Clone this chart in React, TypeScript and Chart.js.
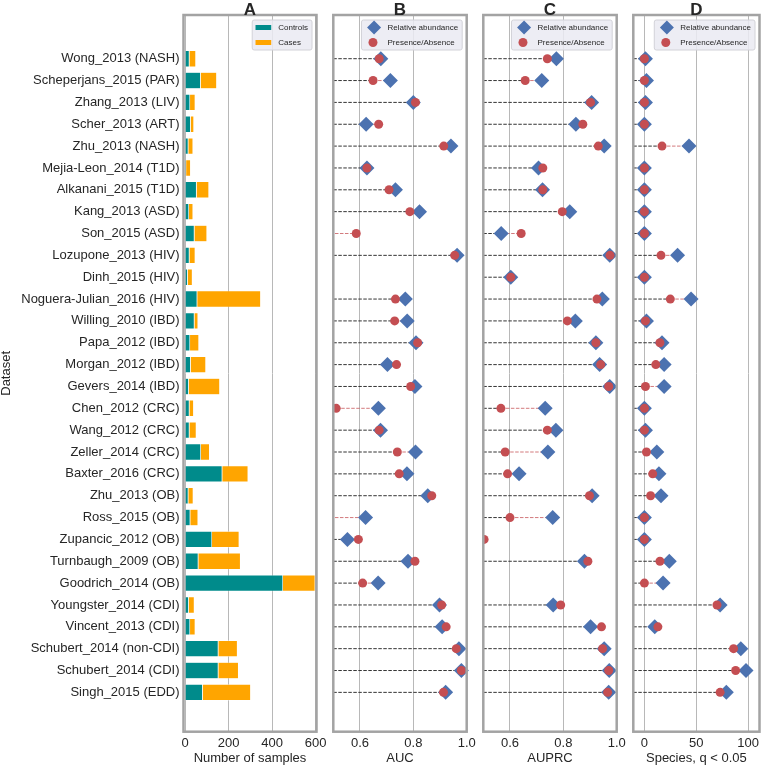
import React, { useEffect, useRef } from 'react';
import { Chart, registerables } from 'chart.js';

Chart.register(...registerables);

// ---------------- data ----------------
const datasetLabels = [
  'Wong_2013 (NASH)', 'Scheperjans_2015 (PAR)', 'Zhang_2013 (LIV)', 'Scher_2013 (ART)',
  'Zhu_2013 (NASH)', 'Mejia-Leon_2014 (T1D)', 'Alkanani_2015 (T1D)', 'Kang_2013 (ASD)',
  'Son_2015 (ASD)', 'Lozupone_2013 (HIV)', 'Dinh_2015 (HIV)', 'Noguera-Julian_2016 (HIV)',
  'Willing_2010 (IBD)', 'Papa_2012 (IBD)', 'Morgan_2012 (IBD)', 'Gevers_2014 (IBD)',
  'Chen_2012 (CRC)', 'Wang_2012 (CRC)', 'Zeller_2014 (CRC)', 'Baxter_2016 (CRC)',
  'Zhu_2013 (OB)', 'Ross_2015 (OB)', 'Zupancic_2012 (OB)', 'Turnbaugh_2009 (OB)',
  'Goodrich_2014 (OB)', 'Youngster_2014 (CDI)', 'Vincent_2013 (CDI)', 'Schubert_2014 (non-CDI)',
  'Schubert_2014 (CDI)', 'Singh_2015 (EDD)',
];

const controls = [20, 72, 23, 26, 15, 5, 53, 18, 43, 20, 12, 56, 43, 23, 26, 17, 20, 20, 73, 171, 15, 24, 124, 61, 450, 17, 23, 153, 153, 81];
const cases = [30, 74, 24, 15, 22, 21, 57, 19, 58, 27, 22, 292, 17, 41, 70, 143, 20, 32, 40, 119, 23, 36, 125, 194, 148, 26, 24, 88, 93, 221];

const aucRA = [0.678, 0.714, 0.800, 0.623, 0.941, 0.626, 0.733, 0.823, 0.45, 0.964, 0.45, 0.770, 0.777, 0.810, 0.703, 0.806, 0.669, 0.677, 0.808, 0.776, 0.854, 0.621, 0.553, 0.780, 0.668, 0.898, 0.908, 0.971, 0.980, 0.921];
const aucPA = [0.672, 0.649, 0.808, 0.670, 0.914, 0.626, 0.709, 0.787, 0.586, 0.955, 0.44, 0.733, 0.730, 0.816, 0.737, 0.790, 0.511, 0.672, 0.740, 0.747, 0.869, 0.45, 0.594, 0.806, 0.610, 0.906, 0.923, 0.961, 0.980, 0.913];

const auprcRA = [0.774, 0.719, 0.906, 0.847, 0.953, 0.707, 0.722, 0.824, 0.567, 0.974, 0.603, 0.946, 0.845, 0.922, 0.936, 0.974, 0.732, 0.772, 0.742, 0.634, 0.908, 0.760, 0.45, 0.879, 0.45, 0.762, 0.902, 0.953, 0.972, 0.970];
const auprcPA = [0.740, 0.657, 0.902, 0.873, 0.931, 0.723, 0.723, 0.796, 0.642, 0.975, 0.603, 0.926, 0.815, 0.922, 0.940, 0.970, 0.566, 0.740, 0.582, 0.591, 0.898, 0.600, 0.503, 0.892, 0.44, 0.790, 0.943, 0.947, 0.970, 0.966];

const speciesRA = [1, 2, 1, 0, 43, 0, 0, 0, 0, 32, 0, 45, 2, 17, 19, 19, 0, 1, 12, 14, 16, 0, 0, 24, 18, 73, 10, 93, 98, 79];
const speciesPA = [0, 0, 0, 0, 17, 0, 0, 0, 0, 16, 0, 25, 1, 15, 11, 1, 0, 0, 2, 8, 6, 0, 0, 15, 0, 70, 13, 86, 88, 73];

const sampleTicks = [0, 200, 400, 600];
const scoreTicks = [0.6, 0.8, 1.0];
const speciesTicks = [0, 50, 100];

// ---------------- style ----------------
const W = 767;
const H = 766;
const FONT = '"Liberation Sans", Arial, Helvetica, sans-serif';
const TEXT = '#262626';
const BLUE = '#4C72B0';
const RED = '#C44E52';
const TEAL = '#008B8B';
const ORANGE = '#FFA500';
const GRID = '#b8b8b8';
const FRAME = '#a3a3a3';
const TOP = 15;
const XAXIS_H = 34.3;
const Y_MIN = -2;
const Y_MAX = 30.8;

Chart.defaults.font.family = FONT;
Chart.defaults.color = TEXT;

type LegendEntry = { kind: 'rect' | 'diamond' | 'circle'; color: string; text: string };

function panelPlugin(title: string, legend: LegendEntry[]) {
  return {
    id: 'panel' + title,
    afterDraw(chart: any) {
      const { ctx, chartArea: a } = chart;
      ctx.save();
      // frame
      ctx.strokeStyle = FRAME;
      ctx.lineWidth = 2.5;
      ctx.strokeRect(a.left, a.top, a.right - a.left, a.bottom - a.top);
      // title
      ctx.fillStyle = TEXT;
      ctx.font = `bold 17px ${FONT}`;
      ctx.textAlign = 'center';
      ctx.textBaseline = 'alphabetic';
      ctx.fillText(title, (a.left + a.right) / 2, 14.5);
      // legend
      ctx.font = `8px ${FONT}`;
      const tw = Math.max(...legend.map((l) => ctx.measureText(l.text).width));
      const bw = 26 + tw + 4;
      const bh = 30;
      const bx = a.right - 4.5 - bw;
      const by = a.top + 5;
      ctx.beginPath();
      if ((ctx as any).roundRect) (ctx as any).roundRect(bx, by, bw, bh, 2);
      else ctx.rect(bx, by, bw, bh);
      ctx.fillStyle = 'rgba(234,234,242,0.85)';
      ctx.fill();
      ctx.strokeStyle = '#d2d2d8';
      ctx.lineWidth = 1;
      ctx.stroke();
      legend.forEach((l, i) => {
        const cy = by + 7.5 + i * 15;
        ctx.fillStyle = l.color;
        if (l.kind === 'rect') {
          ctx.fillRect(bx + 3.3, cy - 2.5, 15.7, 5);
        } else if (l.kind === 'diamond') {
          const cx = bx + 12.6;
          const r = 7;
          ctx.beginPath();
          ctx.moveTo(cx - r, cy);
          ctx.lineTo(cx, cy - r);
          ctx.lineTo(cx + r, cy);
          ctx.lineTo(cx, cy + r);
          ctx.closePath();
          ctx.fill();
        } else {
          ctx.beginPath();
          ctx.arc(bx + 11.5, cy, 4.5, 0, Math.PI * 2);
          ctx.fill();
        }
        ctx.fillStyle = TEXT;
        ctx.textAlign = 'left';
        ctx.textBaseline = 'middle';
        ctx.fillText(l.text, bx + 26, cy + 0.5);
      });
      ctx.restore();
    },
  };
}

function xScale(min: number, max: number, ticks: number[], title: string, fmt: (v: number) => string) {
  return {
    type: 'linear',
    position: 'bottom',
    min,
    max,
    afterBuildTicks: (s: any) => {
      s.ticks = ticks.map((v) => ({ value: v }));
    },
    afterFit: (s: any) => {
      s.height = XAXIS_H;
    },
    ticks: {
      font: { size: 13, family: FONT },
      color: TEXT,
      padding: 4,
      maxRotation: 0,
      autoSkip: false,
      callback: (v: any) => fmt(Number(v)),
    },
    grid: { color: GRID, lineWidth: 1, drawTicks: false },
    border: { display: false },
    title: { display: true, text: title, font: { size: 13, family: FONT }, color: TEXT, padding: 0 },
  };
}

const dotLegend: LegendEntry[] = [
  { kind: 'diamond', color: BLUE, text: 'Relative abundance' },
  { kind: 'circle', color: RED, text: 'Presence/Absence' },
];

function dotConfig(ra: number[], pa: number[], min: number, max: number, ticks: number[], title: string, letter: string, left: number, right: number, fmt: (v: number) => string) {
  const black: any[] = [];
  const red: any[] = [];
  ra.forEach((r, i) => {
    const lo = Math.min(r, pa[i]);
    const hi = Math.max(r, pa[i]);
    black.push({ x: min, y: i }, { x: lo, y: i }, { x: null, y: null });
    red.push({ x: lo, y: i }, { x: hi, y: i }, { x: null, y: null });
  });
  const pointClip = { left: 0, top: 0, right: 6, bottom: 0 };
  return {
    type: 'scatter',
    data: {
      datasets: [
        {
          label: 'Presence/Absence',
          data: pa.map((v, i) => ({ x: v, y: i })),
          pointStyle: 'circle',
          pointRadius: 4.5,
          backgroundColor: RED,
          borderColor: RED,
          borderWidth: 0,
          order: 0,
          clip: pointClip,
        },
        {
          label: 'Relative abundance',
          data: ra.map((v, i) => ({ x: v, y: i })),
          pointStyle: 'rectRot',
          pointRadius: 7.5,
          backgroundColor: BLUE,
          borderColor: BLUE,
          borderWidth: 0,
          order: 1,
          clip: pointClip,
        },
        {
          label: 'diff',
          data: red,
          showLine: true,
          pointRadius: 0,
          borderColor: 'rgba(196,78,82,0.75)',
          borderWidth: 1,
          borderDash: [3.5, 1.5],
          spanGaps: false,
          order: 2,
          clip: 0,
        },
        {
          label: 'base',
          data: black,
          showLine: true,
          pointRadius: 0,
          borderColor: '#333333',
          borderWidth: 1,
          borderDash: [3.5, 1.5],
          spanGaps: false,
          order: 3,
          clip: 0,
        },
      ],
    },
    options: {
      responsive: false,
      animation: false,
      devicePixelRatio: 1,
      events: [],
      layout: { padding: { left, right: W - right, top: TOP, bottom: 0 } },
      plugins: { legend: { display: false }, tooltip: { enabled: false } },
      scales: {
        x: xScale(min, max, ticks, title, fmt),
        y: { type: 'linear', display: false, min: Y_MIN, max: Y_MAX, reverse: true, offset: false },
      },
    },
    plugins: [panelPlugin(letter, dotLegend)],
  };
}

function barConfig() {
  return {
    type: 'bar',
    data: {
      datasets: [
        {
          label: 'Controls',
          data: controls.map((v, i) => ({ x: v, y: i })),
          backgroundColor: TEAL,
          borderColor: 'rgba(255,255,255,0.6)',
          borderWidth: 0.6,
          barPercentage: 0.95,
          categoryPercentage: 0.8,
        },
        {
          label: 'Cases',
          data: cases.map((v, i) => ({ x: v, y: i })),
          backgroundColor: ORANGE,
          borderColor: 'rgba(255,255,255,0.6)',
          borderWidth: 0.6,
          barPercentage: 0.95,
          categoryPercentage: 0.8,
        },
      ],
    },
    options: {
      indexAxis: 'y',
      responsive: false,
      animation: false,
      devicePixelRatio: 1,
      events: [],
      layout: { padding: { left: 0, right: W - 316.5, top: TOP, bottom: 0 } },
      plugins: { legend: { display: false }, tooltip: { enabled: false } },
      scales: {
        x: { ...xScale(-7, 604, sampleTicks, 'Number of samples', (v) => String(v)), stacked: true },
        y: {
          type: 'linear',
          stacked: true,
          min: Y_MIN,
          max: Y_MAX,
          reverse: true,
          offset: false,
          afterBuildTicks: (s: any) => {
            s.ticks = datasetLabels.map((_, i) => ({ value: i }));
          },
          afterFit: (s: any) => {
            s.width = 183.5;
          },
          ticks: {
            font: { size: 13, family: FONT },
            color: TEXT,
            padding: 4,
            autoSkip: false,
            callback: (v: any) => datasetLabels[Number(v)] ?? '',
          },
          grid: { display: false, drawTicks: false },
          border: { display: false },
          title: { display: true, text: 'Dataset', font: { size: 13, family: FONT, lineHeight: 1 }, color: TEXT, padding: 0 },
        },
      },
    },
    plugins: [
      panelPlugin('A', [
        { kind: 'rect', color: TEAL, text: 'Controls' },
        { kind: 'rect', color: ORANGE, text: 'Cases' },
      ]),
    ],
  };
}

export default function App() {
  const refA = useRef<HTMLCanvasElement>(null);
  const refB = useRef<HTMLCanvasElement>(null);
  const refC = useRef<HTMLCanvasElement>(null);
  const refD = useRef<HTMLCanvasElement>(null);

  useEffect(() => {
    const f1 = (v: number) => v.toFixed(1);
    const charts = [
      new Chart(refA.current as any, barConfig() as any),
      new Chart(refB.current as any, dotConfig(aucRA, aucPA, 0.5, 1.0, scoreTicks, 'AUC', 'B', 333.3, 466.7, f1) as any),
      new Chart(refC.current as any, dotConfig(auprcRA, auprcPA, 0.5, 1.0, scoreTicks, 'AUPRC', 'C', 483.3, 616.7, f1) as any),
      new Chart(refD.current as any, dotConfig(speciesRA, speciesPA, -10.7, 111, speciesTicks, 'Species, q < 0.05', 'D', 633.3, 766, (v) => String(v)) as any),
    ];
    return () => charts.forEach((c) => c.destroy());
  }, []);

  const cs: React.CSSProperties = { position: 'absolute', left: 0, top: 0, width: W, height: H };
  return (
    <div style={{ position: 'absolute', left: 0, top: 0, width: W, height: H, background: '#fff' }}>
      <canvas ref={refA} width={W} height={H} style={cs} />
      <canvas ref={refB} width={W} height={H} style={cs} />
      <canvas ref={refC} width={W} height={H} style={cs} />
      <canvas ref={refD} width={W} height={H} style={cs} />
    </div>
  );
}
